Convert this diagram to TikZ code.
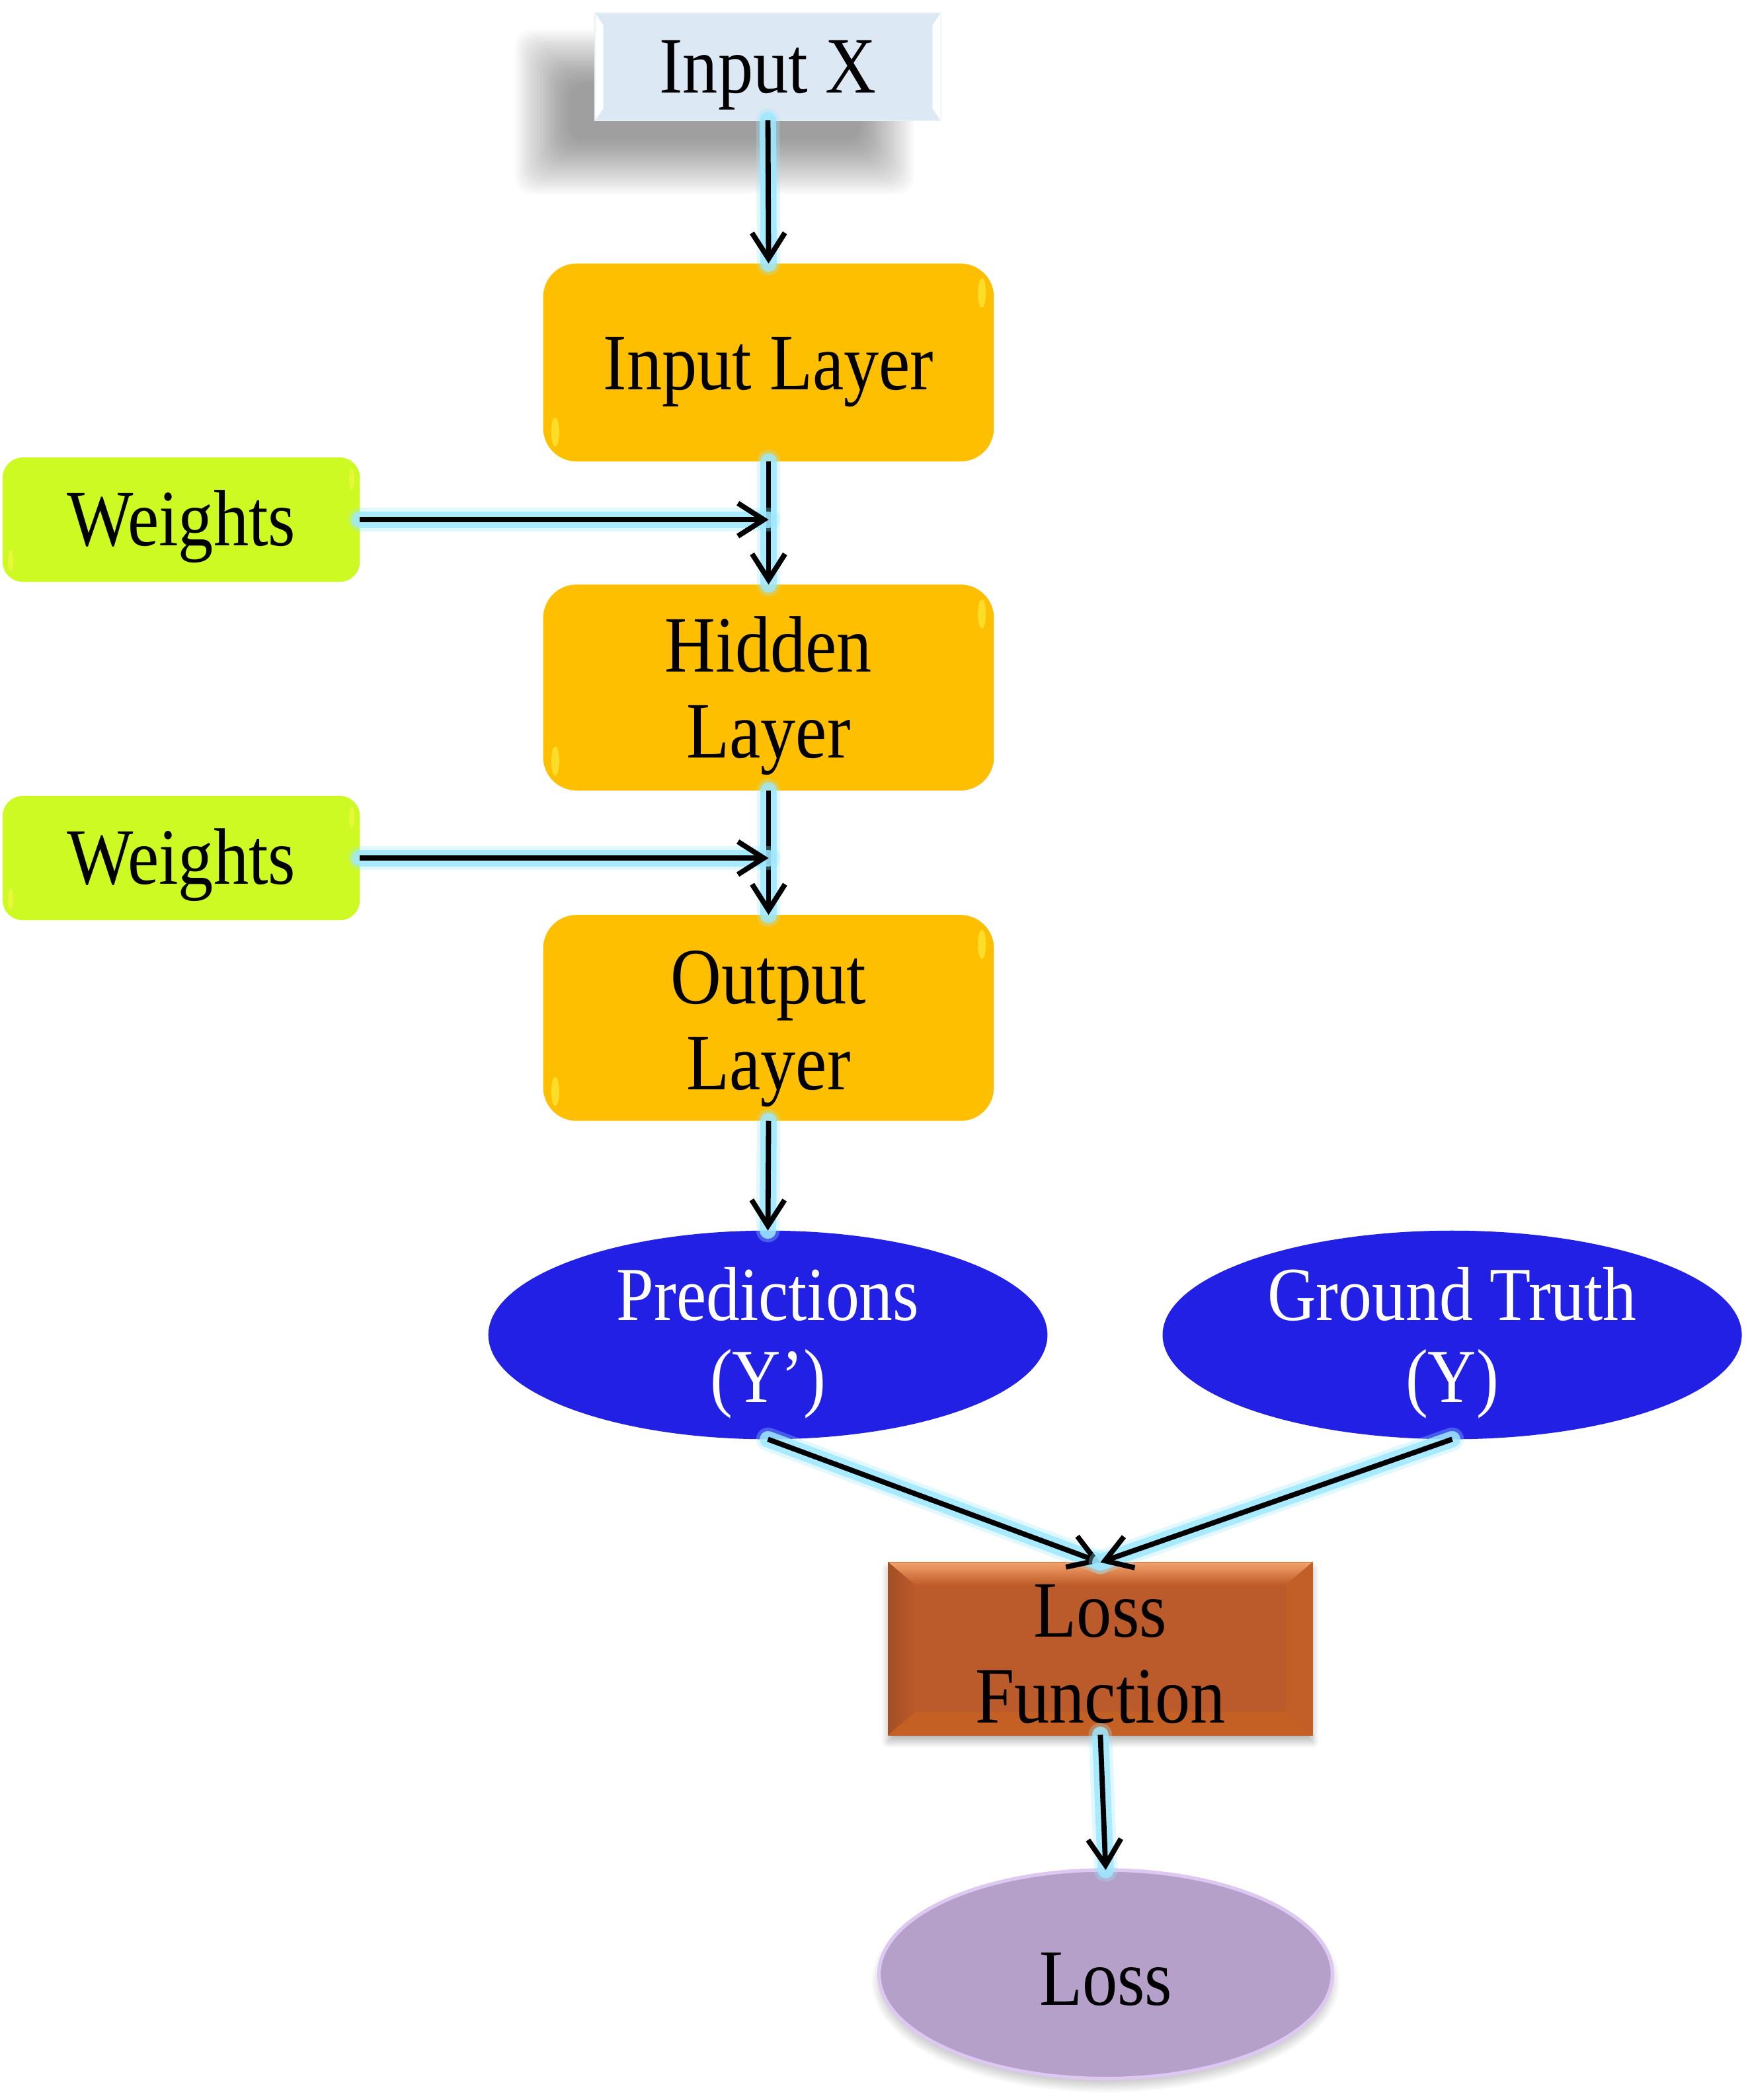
\documentclass[tikz,border=0pt]{standalone}
\usepackage{fontspec}
\setmainfont{Liberation Serif}[FakeStretch=0.88]
\usetikzlibrary{arrows.meta,shadows.blur,calc,shapes.geometric}
\definecolor{inbox}{HTML}{DCE8F4}
\definecolor{layerorange}{HTML}{FEBF00}
\definecolor{weightgreen}{HTML}{CDFA22}
\definecolor{ellblue}{HTML}{2220E4}
\definecolor{lossfn}{HTML}{BB5A2B}
\definecolor{lossfnlight}{HTML}{F3A26B}
\definecolor{lossfndark}{HTML}{A44F25}
\definecolor{losspurple}{HTML}{B5A0CA}
\definecolor{lossedge}{HTML}{DCC8F0}
\definecolor{glowcyan}{HTML}{9EE8FF}
\begin{document}
\begin{tikzpicture}[x=0.02cm,y=-0.02cm,
  every node/.style={align=center, inner sep=0pt, outer sep=0pt},
  txt/.style={font=\fontsize{34}{36.5}\selectfont},
  etxt/.style={font=\fontsize{32.5}{35}\selectfont, text=white},
  inputbox/.style={fill=inbox, draw=inbox!70!white, line width=0.6pt, minimum width=5.16cm, minimum height=1.6cm},
  layerbox/.style={fill=layerorange, rounded corners=0.5cm, minimum width=6.74cm},
  weightbox/.style={fill=weightgreen, rounded corners=0.3cm, minimum width=5.34cm, minimum height=1.86cm},
  blueell/.style={ellipse, fill=ellblue, minimum height=3.12cm},
  lossfnbox/.style={fill=lossfn, draw=lossfn!80!orange, line width=0.6pt, minimum width=6.34cm, minimum height=2.58cm,
    blur shadow={shadow xshift=0pt, shadow yshift=-0.1cm, shadow blur radius=0.1cm, shadow opacity=30, shadow blur steps=20}},
  lossell/.style={ellipse, fill=losspurple, draw=lossedge, line width=1.5pt, minimum width=6.78cm, minimum height=3.12cm,
    blur shadow={shadow xshift=0pt, shadow yshift=-0.1cm, shadow blur radius=0.12cm, shadow opacity=25, shadow blur steps=20}},
  flow/.style={draw=black, line width=2.2pt, -{Straight Barb[length=11pt,width=14pt]},
    preaction={draw=glowcyan, -, line width=10pt, opacity=0.3, line cap=round},
    preaction={draw=glowcyan, -, line width=7pt, opacity=0.85, line cap=round}},
  hilite/.style={fill=yellow!70!white, opacity=0.55}
]
\useasboundingbox (0,0) rectangle (1305,1570);

% soft shadow of the input box
\foreach \i in {0,...,23}{
  \pgfmathsetmacro{\d}{-20+\i*40/23}
  \fill[black, opacity=0.019, rounded corners=0.25cm] (405+\d,42+\d) rectangle (663-\d,125-\d);
}

% nodes
\node[inputbox] (inx) at (574,50) {};
\fill[white] (inx.north west) -- ++(6,9) -- ($(inx.south west)+(6,-9)$) -- (inx.south west) -- cycle;
\fill[white] (inx.north east) -- ++(-6,9) -- ($(inx.south east)+(-6,-9)$) -- (inx.south east) -- cycle;
\node[txt] (inx-t) at ($(inx)+(0,6)$) {Input X};

\node[layerbox, minimum height=2.96cm] (inl) at (574.5,271) {};
\node[layerbox, minimum height=3.08cm] (hid) at (574.5,514) {};
\node[layerbox, minimum height=3.08cm] (outl) at (574.5,761) {};
\foreach \n in {inl,hid,outl}{
  \fill[hilite] ($(\n.north east)+(-9,22)$) ellipse (3 and 11);
  \fill[hilite] ($(\n.south west)+(9,-22)$) ellipse (3 and 11);
}
\node[txt] (inl-t) at ($(inl)+(0,7)$) {Input Layer};
\node[txt] (hid-t) at ($(hid)+(0,6)$) {Hidden\\Layer};
\node[txt] (outl-t) at ($(outl)+(0,8)$) {Output\\Layer};

\node[weightbox] (w1) at (135.5,388.5) {};
\node[weightbox] (w2) at (135.5,641.5) {};
\foreach \n in {w1,w2}{
  \fill[hilite] ($(\n.north east)+(-6,16)$) ellipse (2 and 8);
  \fill[hilite] ($(\n.south west)+(6,-16)$) ellipse (2 and 8);
}
\node[txt] (w1-t) at ($(w1)+(0,5)$) {Weights};
\node[txt] (w2-t) at ($(w2)+(0,5)$) {Weights};

\node[blueell, minimum width=8.36cm] (pred) at (574,998) {};
\node[blueell, minimum width=8.66cm] (gt) at (1085.5,998) {};
\node[etxt] (pred-t) at ($(pred)+(0,6)$) {Predictions\\(Y’)};
\node[etxt] (gt-t) at ($(gt)+(0,6)$) {Ground Truth\\(Y)};

\node[lossfnbox] (lf) at (822.5,1232.5) {};
\shade[top color=lossfnlight, bottom color=lossfn!95!orange] (lf.north west) -- (lf.north east) -- ($(lf.north east)+(-20,17)$) -- ($(lf.north west)+(20,17)$) -- cycle;
\shade[left color=lossfndark, right color=lossfn] (lf.north west) -- ($(lf.north west)+(20,17)$) -- ($(lf.south west)+(20,-17)$) -- (lf.south west) -- cycle;
\fill[lossfn!90!orange] (lf.north east) -- ($(lf.north east)+(-20,17)$) -- ($(lf.south east)+(-20,-17)$) -- (lf.south east) -- cycle;
\fill[lossfn!85!orange] (lf.south west) -- ($(lf.south west)+(20,-17)$) -- ($(lf.south east)+(-20,-17)$) -- (lf.south east) -- cycle;
\node[txt] (lf-t) at ($(lf)+(0,4)$) {Loss\\Function};

\node[lossell] (loss) at (826.5,1476) {};
\node[txt] (loss-t) at ($(loss)+(0,4)$) {Loss};

% connectors
\coordinate (j1) at (inl.south |- w1.east);
\coordinate (j2) at (hid.south |- w2.east);
\draw[flow] (inx.south) -- (inl.north);
\draw[flow] (inl.south) -- (hid.north);
\draw[flow] (w1.east) -- (j1);
\draw[flow] (hid.south) -- (outl.north);
\draw[flow] (w2.east) -- (j2);
\draw[flow] (outl.south) -- (pred.north);
\draw[flow] (pred.south) -- (lf.north);
\draw[flow] (gt.south) -- (lf.north);
\draw[flow] (lf.south) -- (loss.north);
\end{tikzpicture}
\end{document}
